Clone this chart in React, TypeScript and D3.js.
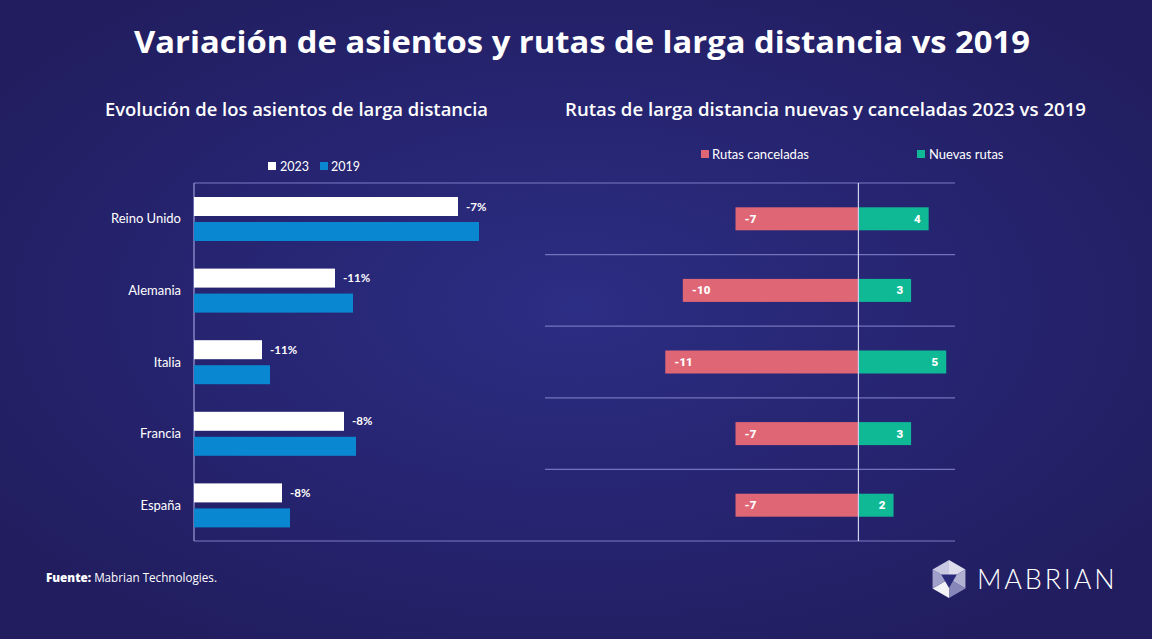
import React from "react";
import * as d3 from "d3";

const categories = ["Reino Unido", "Alemania", "Italia", "Francia", "España"];
const seats2023 = [264, 141, 68, 150, 88];
const seats2019 = [285, 159, 76, 162, 96];
const pctChange = ["-7%", "-11%", "-11%", "-8%", "-8%"];
const cancelledRoutes = [-7, -10, -11, -7, -7];
const newRoutes = [4, 3, 5, 3, 2];
const seriesLeft = ["2023", "2019"];
const seriesRight = ["Rutas canceladas", "Nuevas rutas"];

const W = 1152;
const H = 639;
const C_WHITE = "#ffffff";
const C_BLUE = "#0a87d1";
const C_PINK = "#de6675";
const C_GREEN = "#10b995";
const FONT = "Lato, 'Open Sans', sans-serif";
const HEAD = "'Open Sans', Lato, sans-serif";

export default function App() {
  const y = d3.scaleBand<string>().domain(categories).range([183, 541]);
  const inner = d3.scaleBand<string>().domain(seriesLeft).range([14, 58]).paddingInner(0.24);
  const xL = d3.scaleLinear().domain([0, 300]).range([194, 494]);
  const xR = d3.scaleLinear().domain([-11.3, 5.5]).range([660, 955]);
  const barH = 23;

  const cx = 949;
  const cy0 = 579;
  const hex = d3.range(6).map((i) => {
    const a = (Math.PI / 3) * i - Math.PI / 2;
    return [cx + 19 * Math.cos(a), cy0 + 19 * Math.sin(a)] as [number, number];
  });
  const c: [number, number] = [cx, cy0];
  const tri = d3.range(6).map((i) => [hex[i], hex[(i + 1) % 6], c]);
  const triFill = ["#e8e8f4", "#b9b9d8", "#8d8dbf", "#ffffff", "#a8a8d0", "#d2d2ea"];
  const innerTri = [1, 3, 5].map((i) => {
    const a = (Math.PI / 3) * i - Math.PI / 2;
    return [cx + 9 * Math.cos(a), cy0 + 9 * Math.sin(a)] as [number, number];
  });

  return (
    <svg width={W} height={H} style={{ display: "block", position: "absolute", left: 0, top: 0 }} fontFamily={FONT}>
      <defs>
        <radialGradient id="bg" cx="50%" cy="48%" r="62%">
          <stop offset="0%" stopColor="#2c2d84" />
          <stop offset="100%" stopColor="#211d5f" />
        </radialGradient>
      </defs>
      <rect width={W} height={H} fill="url(#bg)" />

      <text x={134} y={53} fill="#fff" fontSize={31} fontWeight={700} fontFamily={HEAD} textLength={896} lengthAdjust="spacingAndGlyphs">
        Variación de asientos y rutas de larga distancia vs 2019
      </text>
      <text x={105} y={116} fill="#fff" fontSize={17.5} fontWeight={600} fontFamily={HEAD} textLength={383} lengthAdjust="spacingAndGlyphs">
        Evolución de los asientos de larga distancia
      </text>
      <text x={565} y={116} fill="#fff" fontSize={17.5} fontWeight={600} fontFamily={HEAD} textLength={521} lengthAdjust="spacingAndGlyphs">
        Rutas de larga distancia nuevas y canceladas 2023 vs 2019
      </text>

      {/* Left legend */}
      <g fontSize={12.5} fill="#fff">
        <rect x={268} y={162} width={8} height={8} fill={C_WHITE} />
        <text x={280} y={170.5}>{seriesLeft[0]}</text>
        <rect x={320} y={162} width={8} height={8} fill={C_BLUE} />
        <text x={331} y={170.5}>{seriesLeft[1]}</text>
      </g>

      {/* Right legend */}
      <g fontSize={13} fill="#fff">
        <rect x={701} y={150} width={8} height={8} fill={C_PINK} />
        <text x={712} y={158.5}>{seriesRight[0]}</text>
        <rect x={917} y={150} width={8} height={8} fill={C_GREEN} />
        <text x={929} y={158.5}>{seriesRight[1]}</text>
      </g>

      {/* Frame lines */}
      <line x1={194} x2={955} y1={183} y2={183} stroke="#7b7bc4" strokeWidth={1.2} />
      <line x1={194} x2={955} y1={541} y2={541} stroke="#7b7bc4" strokeWidth={1.2} />
      <line x1={194} x2={194} y1={183} y2={541} stroke="#9b9bd6" strokeWidth={1.2} />

      {categories.map((cat, i) => {
        const by = y(cat)!;
        const y23 = by + inner("2023")!;
        const y19 = by + inner("2019")!;
        const bh = inner.bandwidth();
        return (
          <g key={cat}>
            <text x={181} y={by + y.bandwidth() / 2 + 4.5} textAnchor="end" fill="#fff" fontSize={13}>
              {cat}
            </text>
            <rect x={xL(0)} y={y23} width={xL(seats2023[i]) - xL(0)} height={bh} fill={C_WHITE} />
            <rect x={xL(0)} y={y19} width={xL(seats2019[i]) - xL(0)} height={bh} fill={C_BLUE} />
            <text x={xL(seats2023[i]) + 8} y={y23 + bh / 2 + 4} fill="#fff" fontSize={11.5} fontWeight={700}>
              {pctChange[i]}
            </text>
          </g>
        );
      })}

      {/* Right chart separators */}
      {d3.range(1, categories.length).map((k) => {
        const yy = 183 + k * y.step();
        return <line key={k} x1={545} x2={955} y1={yy} y2={yy} stroke="#7373bd" strokeWidth={1.2} />;
      })}
      {categories.map((cat, i) => {
        const cy = y(cat)! + y.bandwidth() / 2;
        const yb = cy - barH / 2;
        return (
          <g key={cat}>
            <rect x={xR(cancelledRoutes[i])} y={yb} width={xR(0) - xR(cancelledRoutes[i])} height={barH} fill={C_PINK} />
            <rect x={xR(0)} y={yb} width={xR(newRoutes[i]) - xR(0)} height={barH} fill={C_GREEN} />
            <text x={xR(cancelledRoutes[i]) + 9} y={cy + 4} fill="#fff" fontSize={11.5} fontWeight={900} fontFamily="Roboto, sans-serif">
              {cancelledRoutes[i]}
            </text>
            <text x={xR(newRoutes[i]) - 8} y={cy + 4} textAnchor="end" fill="#fff" fontSize={11.5} fontWeight={900} fontFamily="Roboto, sans-serif">
              {newRoutes[i]}
            </text>
          </g>
        );
      })}
      <line x1={xR(0)} x2={xR(0)} y1={183} y2={541} stroke="#d0d0f0" strokeWidth={1.2} />

      {/* Footer */}
      <text x={46} y={582} fill="#fff" fontSize={12} fontFamily={HEAD} textLength={171} lengthAdjust="spacingAndGlyphs">
        <tspan fontWeight={800}>Fuente:</tspan>
        <tspan> Mabrian Technologies.</tspan>
      </text>

      {/* Logo */}
      <g>
        {tri.map((t, i) => (
          <path key={i} d={d3.line()(t as [number, number][])! + "Z"} fill={triFill[i]} opacity={0.95} />
        ))}
        <path d={d3.line()(innerTri)! + "Z"} fill="#2a2a7a" />
      </g>
      <text x={977} y={589} fill="#fff" fontSize={27} fontWeight={300} letterSpacing={2.8}>
        MABRIAN
      </text>
    </svg>
  );
}
